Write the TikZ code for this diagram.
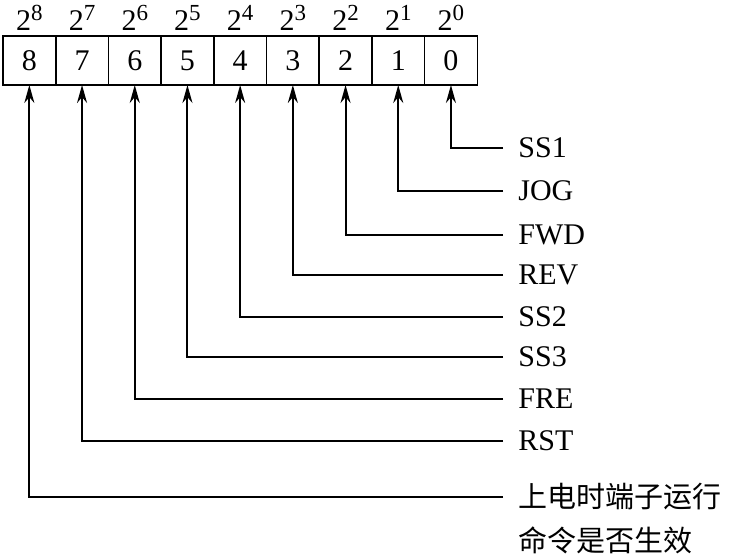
\documentclass[tikz,border=0pt]{standalone}
\usepackage{fontspec}
\setmainfont{Liberation Serif}
\newfontfamily\cjkfont{Noto Sans CJK SC}
\usepackage{tikz}
\usetikzlibrary{arrows.meta,positioning}
\newcommand{\bitpow}[1]{2\raisebox{0.33em}{\fontsize{11.5}{13}\selectfont #1}}

\begin{document}
\begin{tikzpicture}[
    x=0.5pt, y=-0.5pt,
    font=\fontsize{15}{17}\selectfont,
    bit/.style={draw, line width=0.8pt, minimum width=26.35pt, minimum height=24.5pt, inner sep=0pt, outer sep=0pt},
    pow/.style={inner sep=0.5pt},
    sig/.style={anchor=west, inner xsep=7.5pt, inner ysep=1pt},
    cjk/.style={font=\cjkfont\fontsize{14.5}{16}\selectfont},
    edge/.style={-{Stealth[length=9pt, width=5pt]}, line width=1pt}
]
\useasboundingbox (0,0) rectangle (729,558);
% register cells
\node[bit, anchor=north west] (c8) at (3,36) {8};
\node[bit, right=0pt of c8] (c7) {7};
\node[bit, right=0pt of c7] (c6) {6};
\node[bit, right=0pt of c6] (c5) {5};
\node[bit, right=0pt of c5] (c4) {4};
\node[bit, right=0pt of c4] (c3) {3};
\node[bit, right=0pt of c3] (c2) {2};
\node[bit, right=0pt of c2] (c1) {1};
\node[bit, right=0pt of c1] (c0) {0};
% weights
\node[pow, above=2pt of c8] (p8) {\bitpow{8}};
\node[pow, above=2pt of c7] (p7) {\bitpow{7}};
\node[pow, above=2pt of c6] (p6) {\bitpow{6}};
\node[pow, above=2pt of c5] (p5) {\bitpow{5}};
\node[pow, above=2pt of c4] (p4) {\bitpow{4}};
\node[pow, above=2pt of c3] (p3) {\bitpow{3}};
\node[pow, above=2pt of c2] (p2) {\bitpow{2}};
\node[pow, above=2pt of c1] (p1) {\bitpow{1}};
\node[pow, above=2pt of c0] (p0) {\bitpow{0}};
% signal names
\node[sig] (s0) at (503,148) {SS1};
\node[sig] (s1) at (503,191) {JOG};
\node[sig] (s2) at (503,235) {FWD};
\node[sig] (s3) at (503,275) {REV};
\node[sig] (s4) at (503,317) {SS2};
\node[sig] (s5) at (503,357) {SS3};
\node[sig] (s6) at (503,399) {FRE};
\node[sig] (s7) at (503,441) {RST};
\node[sig, cjk] (s8) at (503,497) {上电时端子运行};
\node[sig, cjk] (s8b) at (503,540) {命令是否生效};
% connectors
\draw[edge] (s0.west) -| (c0.south);
\draw[edge] (s1.west) -| (c1.south);
\draw[edge] (s2.west) -| (c2.south);
\draw[edge] (s3.west) -| (c3.south);
\draw[edge] (s4.west) -| (c4.south);
\draw[edge] (s5.west) -| (c5.south);
\draw[edge] (s6.west) -| (c6.south);
\draw[edge] (s7.west) -| (c7.south);
\draw[edge] (s8.west) -| (c8.south);
\end{tikzpicture}
\end{document}
